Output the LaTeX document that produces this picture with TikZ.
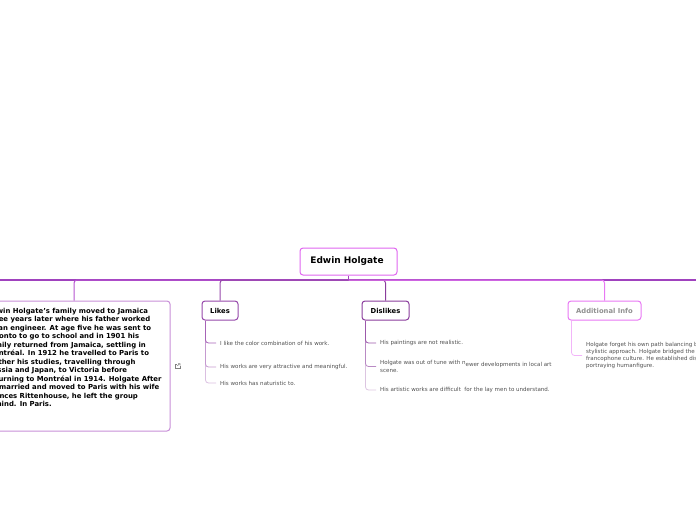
\documentclass[tikz,border=0pt]{standalone}
\usepackage{fontspec,xcolor}
\setmainfont{DejaVu Sans}
\usetikzlibrary{arrows.meta,calc,positioning}
\definecolor{rootline}{RGB}{224,102,240}
\definecolor{trunk}{RGB}{160,66,190}
\definecolor{factline}{RGB}{200,144,216}
\definecolor{factstem}{RGB}{182,84,208}
\definecolor{likeline}{RGB}{150,72,170}
\definecolor{dislikeline}{RGB}{138,60,156}
\definecolor{infoline}{RGB}{232,120,244}
\definecolor{infotext}{RGB}{145,145,145}
\definecolor{leaftext}{RGB}{80,80,80}
\newcommand{\leaffont}{\fontsize{5.55}{7.2}\selectfont}

\begin{document}
\begin{tikzpicture}[x=1pt,y=-1pt,
  topic/.style={draw,rounded corners=3pt,line width=1pt,fill=white,inner sep=0pt,text=black,font=\fontsize{6.8}{8}\bfseries\selectfont},
  leaf/.style={anchor=west,inner sep=0pt,text=leaftext,align=left,font=\leaffont},
  branch/.style={rounded corners=3pt,line width=1pt}]
\useasboundingbox (0,0) rectangle (696,520);
\node[topic,draw=rootline,minimum width=97pt,minimum height=27pt] (root) at (348.5,261.5) {\hspace*{-3pt}\raisebox{-.5pt}{\fontsize{9}{11}\bfseries\selectfont Edwin Holgate}};
\coordinate (west) at (-2,280); \coordinate (east) at (698,280);
\coordinate (hub) at (348.5,280);
\draw[trunk,line width=1.2pt] (west)--(east);
\draw[trunk,line width=1pt] (root)--(hub);
% main topics
\node[topic,draw=factline,minimum width=192pt,minimum height=130pt] (facts) at (74,366) {};
\node[anchor=north west,inner sep=0pt,align=left,font=\fontsize{6.9}{8.5}\bfseries\selectfont] (factstext) at (-13,308) {Edwin Holgate's family moved to Jamaica\\
three years later where his father worked\\
as an engineer. At age five he was sent to\\
Toronto to go to school and in 1901 his\\
family returned from Jamaica, settling in\\
Montréal. In 1912 he travelled to Paris to\\
further his studies, travelling through\\
Russia and Japan, to Victoria before\\
returning to Montréal in 1914. Holgate After\\
he married and moved to Paris with his wife\\
Frances Rittenhouse, he left the group\\
behind. In Paris.};
\node[topic,draw=likeline,minimum width=36pt,minimum height=19pt] (likes) at (220,310.5) {Likes};
\node[topic,draw=dislikeline,minimum width=47pt,minimum height=19pt] (dislikes) at (385.5,310.5) {Dislikes};
\node[topic,draw=infoline,text=infotext,minimum width=73pt,minimum height=19pt] (info) at (604.5,310.5) {Additional Info};
\draw[branch,factstem] (hub)-|(facts.north);
\draw[branch,likeline] (hub)-|(likes.north);
\draw[branch,dislikeline] (hub)-|(dislikes.north);
\draw[branch,infoline] (hub)-|(info.north);
% link icon
\coordinate (iconbl) at (174.8,368.5); \coordinate (icontr) at (180,363.5);
\draw[gray,line width=.5pt] (177,364)-|(iconbl)-|(179.8,366);
\draw[gray,line width=.5pt] (177,366)--(icontr) (178,363.5)-|(180,365.5);
% leaves
\node[leaf] (like1) at (220,343) {I like the color combination of his work.};
\node[leaf] (like2) at (220,367) {His works are very attractive and meaningful.};
\node[leaf] (like3) at (220,383) {His works has naturistic to.};
\node[leaf] (dis1) at (380,343) {His paintings are not realistic.};
\node[leaf] (dis2) at (380,366.5) {Holgate was out of tune with n\raisebox{-1.2pt}{ewer developments in local art}\\scene.};
\node[leaf] (dis3) at (380,390) {His artistic works are difficult\ \ for the lay men to understand.};
\node[leaf] (info1) at (586,355.5) {Holgate forget his own path balancing b\\stylistic approach. Holgate bridged the a\\francophone culture. He established dis\\portraying humanfigure.};
\tikzset{twig/.style={rounded corners=3pt,line width=.8pt,shorten >=4pt}}
\coordinate (likefoot) at ($(likes.south west)+(4,0)$);
\coordinate (disfoot) at ($(dislikes.south west)+(4,0)$);
\coordinate (infofoot) at ($(info.south west)+(4,0)$);
\draw[twig,likeline!35] (likefoot)|-(like3.west);
\draw[twig,likeline!55] (likefoot)|-(like2.west);
\draw[twig,likeline!85] (likefoot)|-(like1.west);
\draw[twig,dislikeline!30] (disfoot)|-(dis3.west);
\draw[twig,dislikeline!60] (disfoot)|-(dis2.west);
\draw[twig,dislikeline!85] (disfoot)|-(dis1.west);
\draw[twig,infoline!55] (infofoot)|-(info1.west);
\end{tikzpicture}
\end{document}
